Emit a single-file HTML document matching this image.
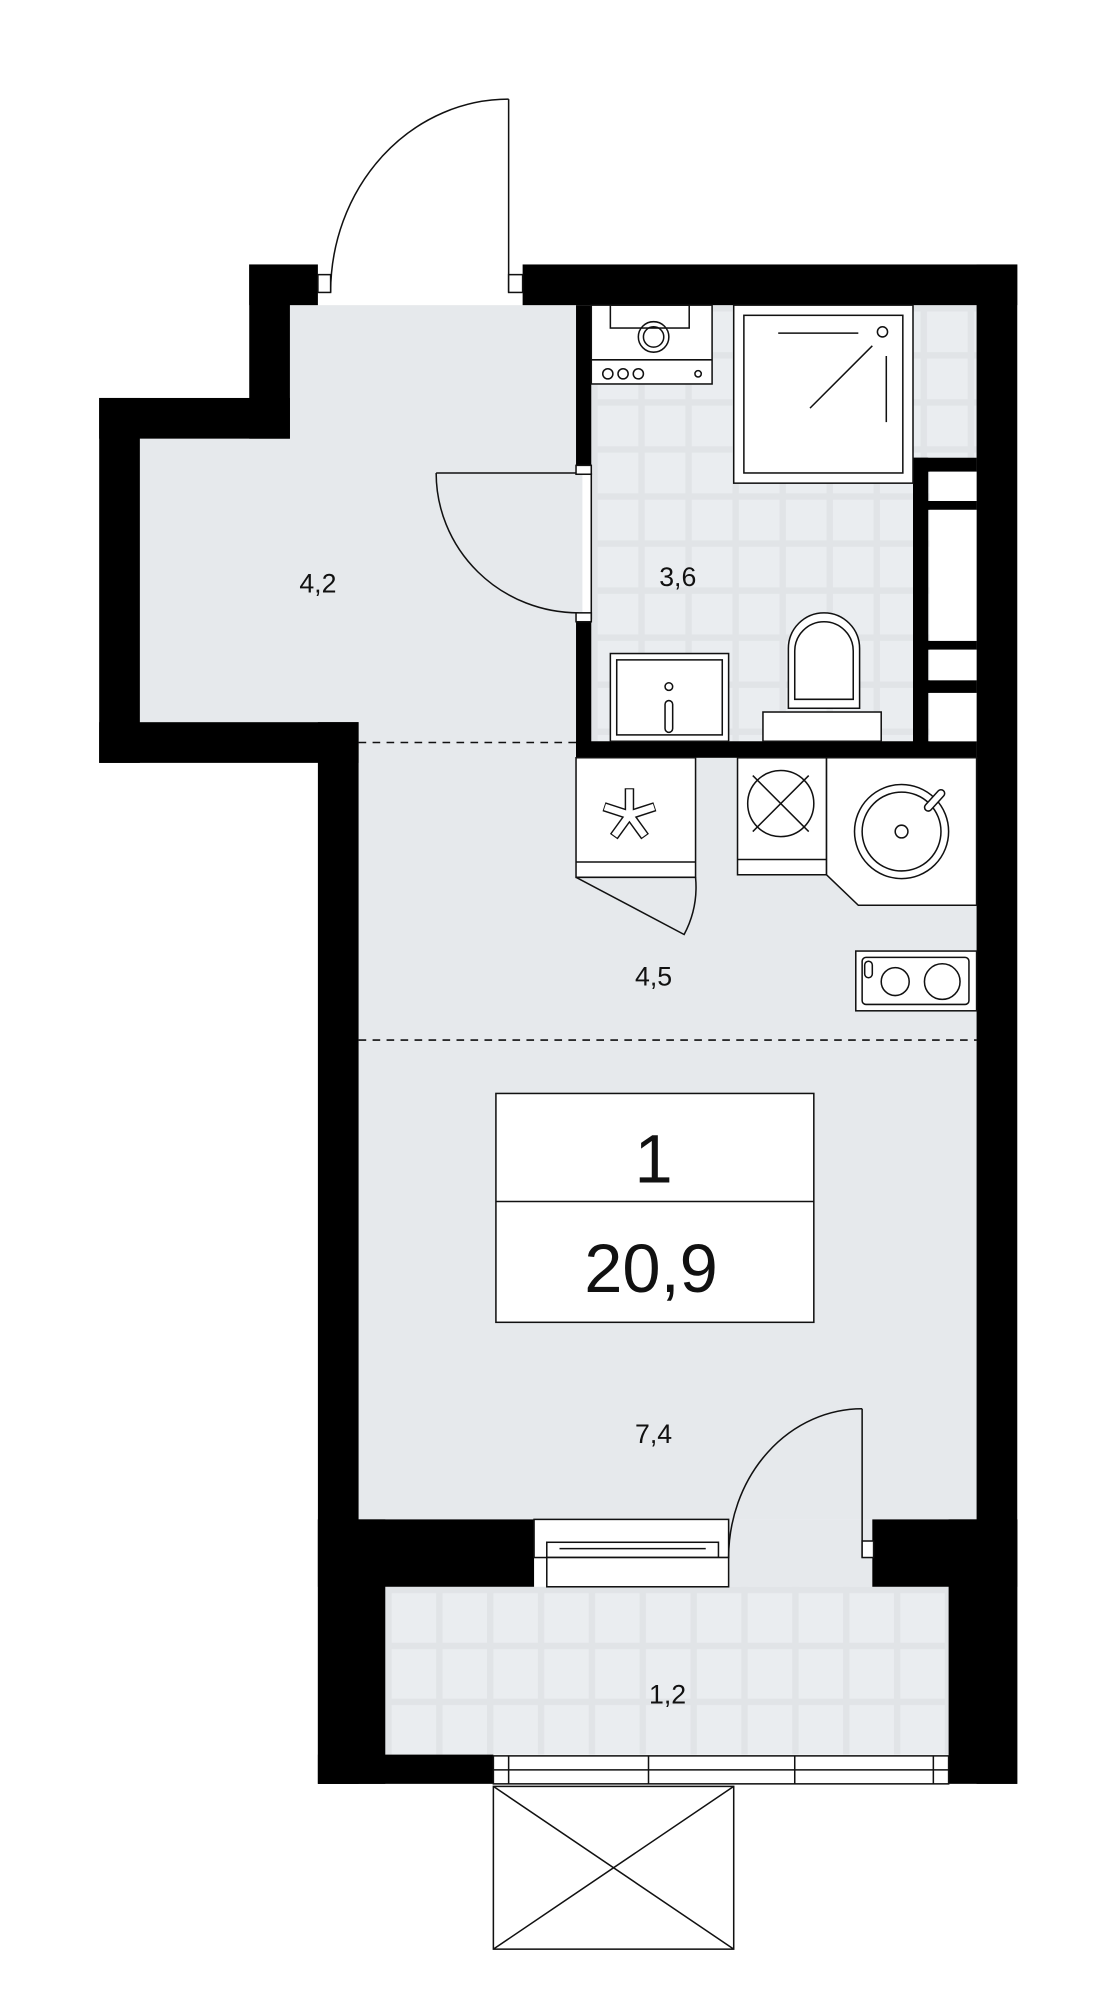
<!DOCTYPE html>
<html><head><meta charset="utf-8"><style>
html,body{margin:0;padding:0;background:#fff;}
svg{display:block;}
text{font-family:"Liberation Sans",sans-serif;fill:#111;}
</style></head><body>
<svg width="1119" height="2000" viewBox="0 0 880 1573" preserveAspectRatio="none" xmlns="http://www.w3.org/2000/svg">
<defs>
<pattern id="tile" x="465" y="240" width="37" height="37" patternUnits="userSpaceOnUse">
<rect width="37" height="37" fill="#eaedf0"/>
<rect x="0" y="0" width="37" height="5" fill="#e1e4e7"/>
<rect x="0" y="0" width="5" height="37" fill="#e1e4e7"/>
</pattern>
<pattern id="tile2" x="303" y="1248" width="40" height="44" patternUnits="userSpaceOnUse">
<rect width="40" height="44" fill="#eaedf0"/>
<rect x="0" y="0" width="40" height="5" fill="#e1e4e7"/>
<rect x="0" y="0" width="5" height="44" fill="#e1e4e7"/>
</pattern>
</defs>
<g fill="#e6e9ec">
<rect x="228" y="240" width="230" height="345"/>
<rect x="110" y="345" width="120" height="225"/>
<rect x="282" y="583" width="486" height="612"/>
<rect x="573" y="1195" width="113" height="55"/>
</g>
<rect x="465" y="240" width="303" height="343" fill="url(#tile)"/>
<rect x="303" y="1248" width="443" height="132" fill="url(#tile2)"/>
<g fill="#000">
<rect x="411" y="208" width="389" height="32"/>
<rect x="196" y="208" width="54" height="32"/>
<rect x="196" y="208" width="32" height="137"/>
<rect x="78" y="313" width="150" height="32"/>
<rect x="78" y="313" width="32" height="287"/>
<rect x="78" y="568" width="204" height="32"/>
<rect x="250" y="568" width="32" height="835"/>
<rect x="768" y="208" width="32" height="1195"/>
<rect x="250" y="1195" width="170" height="53"/>
<rect x="686" y="1195" width="114" height="53"/>
<rect x="250" y="1195" width="53" height="208"/>
<rect x="746" y="1195" width="54" height="208"/>
<rect x="250" y="1380" width="138" height="23"/>
<rect x="453" y="240" width="12" height="132"/>
<rect x="453" y="487" width="12" height="109"/>
<rect x="453" y="583" width="315" height="13"/>
<rect x="718" y="360" width="12" height="226"/>
<rect x="718" y="360" width="50" height="11"/>
<rect x="718" y="394" width="50" height="7"/>
<rect x="718" y="504" width="50" height="7"/>
<rect x="718" y="535" width="50" height="10"/>
</g>
<g fill="#fff"><rect x="731" y="371" width="37" height="23"/><rect x="731" y="401" width="37" height="103"/><rect x="731" y="511" width="37" height="24"/><rect x="731" y="545" width="37" height="38"/></g>
<g fill="none" stroke="#111" stroke-width="1.2">
<line x1="400" y1="78" x2="400" y2="230"/>
<path d="M400 78 A140 152 0 0 0 260 230"/>
<rect x="250" y="216" width="10" height="14" fill="#fff"/>
<rect x="400" y="216" width="11" height="14" fill="#fff"/>
<line x1="343" y1="372" x2="460" y2="372"/>
<path d="M343 372 A112 110 0 0 0 455 482"/>
<rect x="453" y="366" width="12" height="7" fill="#fff"/>
<rect x="453" y="482" width="12" height="7" fill="#fff"/>
<line x1="465" y1="372" x2="465" y2="487"/>
<rect x="465" y="240" width="95" height="62" fill="#fff"/>
<rect x="480" y="240" width="62" height="18"/>
<circle cx="514" cy="265" r="12"/><circle cx="514" cy="265" r="8"/>
<line x1="465" y1="283" x2="560" y2="283"/>
<circle cx="478" cy="294" r="4"/><circle cx="490" cy="294" r="4"/><circle cx="502" cy="294" r="4"/><circle cx="549" cy="294" r="2.5"/>
<rect x="577" y="240" width="141" height="140" fill="#fff"/>
<rect x="585" y="248" width="125" height="124"/>
<line x1="612" y1="262" x2="675" y2="262"/>
<circle cx="694" cy="261" r="4"/>
<line x1="637" y1="321" x2="686" y2="272"/>
<line x1="697" y1="280" x2="697" y2="332"/>
<rect x="480" y="514" width="93" height="69" fill="#fff"/>
<rect x="485" y="519" width="83" height="59"/>
<circle cx="526" cy="540" r="3"/>
<rect x="523" y="551" width="6" height="25" rx="3"/>
<rect x="600" y="560" width="93" height="23" fill="#fff"/>
<path d="M620 557 V510 A28 28 0 0 1 676 510 V557 Z" fill="#fff"/>
<path d="M625 550 V512 A23 23 0 0 1 671 512 V550 Z"/>
<path d="M453 596 H547 V690 H453 Z" fill="#fff"/>
<line x1="453" y1="678" x2="547" y2="678"/>
<path d="M453 690 L538 735 A80 80 0 0 0 547 690"/>
<rect x="580" y="596" width="70" height="92" fill="#fff"/>
<line x1="580" y1="676" x2="650" y2="676"/>
<circle cx="614" cy="632" r="26"/>
<line x1="592" y1="610" x2="636" y2="654"/><line x1="636" y1="610" x2="592" y2="654"/>
<path d="M650 596 H768 V712 H675 L650 688 Z" fill="#fff"/>
<circle cx="709" cy="654" r="37"/><circle cx="709" cy="654" r="31"/><circle cx="709" cy="654" r="5"/>
<rect x="673" y="748" width="95" height="47" fill="#fff"/>
<rect x="678" y="753" width="84" height="37" rx="3"/>
<circle cx="704" cy="772" r="11"/><circle cx="741" cy="772" r="14"/>
<rect x="680" y="756" width="6" height="13" rx="3"/>
<line x1="282" y1="584" x2="453" y2="584" stroke-dasharray="6 5"/>
<line x1="282" y1="818" x2="768" y2="818" stroke-dasharray="6 5"/>
<rect x="390" y="860" width="250" height="180" fill="#fff"/>
<line x1="390" y1="945" x2="640" y2="945"/>
<rect x="420" y="1195" width="153" height="30" fill="#fff"/>
<rect x="430" y="1213" width="135" height="12"/>
<line x1="440" y1="1218" x2="555" y2="1218"/>
<rect x="430" y="1225" width="143" height="23" fill="#fff"/>
<line x1="678" y1="1108" x2="678" y2="1225"/>
<path d="M678 1108 A105 117 0 0 0 573 1225"/>
<rect x="678" y="1212" width="9" height="13" fill="#fff"/>
<rect x="388" y="1381" width="358" height="22" fill="#fff"/>
<line x1="388" y1="1392" x2="746" y2="1392"/>
<line x1="400" y1="1381" x2="400" y2="1403"/><line x1="734" y1="1381" x2="734" y2="1403"/>
<line x1="510" y1="1381" x2="510" y2="1403"/><line x1="625" y1="1381" x2="625" y2="1403"/>
<rect x="388" y="1405" width="189" height="128" fill="#fff"/>
<line x1="388" y1="1405" x2="577" y2="1533"/><line x1="577" y1="1405" x2="388" y2="1533"/>
</g>
<!-- faucet -->
<line x1="730" y1="635" x2="740" y2="624" stroke="#111" stroke-width="7" stroke-linecap="round"/>
<line x1="730" y1="635" x2="740" y2="624" stroke="#fff" stroke-width="4.6" stroke-linecap="round"/>
<!-- asterisk -->
<g stroke-linecap="butt">
<g stroke="#111" stroke-width="7.5">
<line x1="495" y1="641" x2="495" y2="620"/>
<line x1="495" y1="641" x2="515" y2="634.5"/>
<line x1="495" y1="641" x2="507.3" y2="658"/>
<line x1="495" y1="641" x2="482.7" y2="658"/>
<line x1="495" y1="641" x2="475" y2="634.5"/>
</g>
<g stroke="#fff" stroke-width="5.2">
<line x1="495" y1="641" x2="495" y2="620.8"/>
<line x1="495" y1="641" x2="514.3" y2="634.7"/>
<line x1="495" y1="641" x2="506.8" y2="657.3"/>
<line x1="495" y1="641" x2="483.2" y2="657.3"/>
<line x1="495" y1="641" x2="475.7" y2="634.7"/>
</g>
</g>
<text x="250" y="466" font-size="21" text-anchor="middle">4,2</text>
<text x="533" y="461" font-size="21" text-anchor="middle">3,6</text>
<text x="514" y="775" font-size="21" text-anchor="middle">4,5</text>
<text x="514" y="1135" font-size="21" text-anchor="middle">7,4</text>
<text x="525" y="1340" font-size="21" text-anchor="middle">1,2</text>
<text x="514" y="930" font-size="54" text-anchor="middle">1</text>
<text x="512" y="1016" font-size="54" text-anchor="middle">20,9</text>
</svg>
</body></html>
